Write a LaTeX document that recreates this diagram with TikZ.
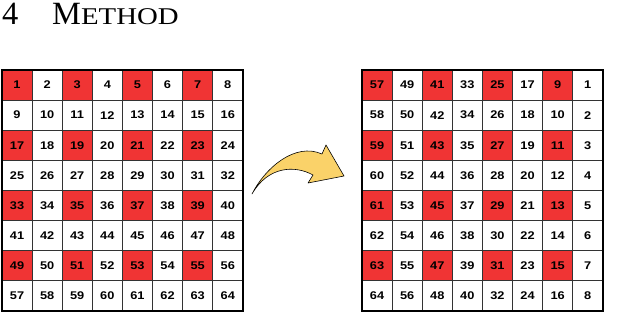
\documentclass[tikz,border=0pt]{standalone}
\usepackage{fontspec}
\usepackage{graphicx}
\setmainfont{Liberation Serif}
\newfontfamily\gridfont[FakeStretch=1.15]{Liberation Sans}
\usetikzlibrary{positioning}
\definecolor{cellred}{RGB}{240,52,52}
\definecolor{arrowyellow}{RGB}{250,210,105}

\begin{document}
\begin{tikzpicture}[every node/.style={font=\gridfont\bfseries\fontsize{9.5}{10}\selectfont},
    cell/.style={draw=black!80, line width=0.6pt, minimum size=0.903cm, inner sep=0pt},
    frame/.style={draw=black, line width=1.6pt}]
    \useasboundingbox (0,0) rectangle (19.02,-10.02);
    % heading
    \node[anchor=base west, inner sep=0pt, font=\fontsize{27.7}{30}\selectfont] (secnum) at (0.06,-0.75) {4};
    \node[anchor=base west, inner sep=0pt, font=\fontsize{27.7}{30}\selectfont] (secname) at (1.56,-0.75) {M\scalebox{1.2}[1]{\fontsize{20.5}{22}\selectfont ETHOD}};
    % grid in reading order
    \foreach \r in {0,...,7}
        \foreach \c in {0,...,7} {
            \pgfmathtruncatemacro{\val}{8*\r+\c+1}
            \pgfmathtruncatemacro{\hot}{and(iseven(\r),iseven(\c))}
            \ifnum\hot=1 \def\shade{cellred}\else\def\shade{white}\fi
            \node[cell, fill=\shade] (lft-\r-\c) at ({0.06+0.903*(\c+0.5)},{-2.1-0.903*(\r+0.5)}) {\val};
        }
    \draw[frame] (lft-0-0.north west) rectangle (lft-7-7.south east);
    % grid after rotation
    \foreach \r in {0,...,7}
        \foreach \c in {0,...,7} {
            \pgfmathtruncatemacro{\val}{57-8*\c+\r}
            \pgfmathtruncatemacro{\hot}{and(iseven(\r),iseven(\c))}
            \ifnum\hot=1 \def\shade{cellred}\else\def\shade{white}\fi
            \node[cell, fill=\shade] (rgt-\r-\c) at ({10.86+0.903*(\c+0.5)},{-2.1-0.903*(\r+0.5)}) {\val};
        }
    \draw[frame] (rgt-0-0.north west) rectangle (rgt-7-7.south east);
    % curved arrow
    \filldraw[fill=arrowyellow, draw=black, line width=0.5pt, line join=round]
        (7.56,-5.82) .. controls (7.95,-5.04) and (8.85,-4.26) .. (9.66,-4.62)
        -- (9.78,-4.35) -- (10.32,-5.28) -- (9.24,-5.49) -- (9.39,-5.25)
        .. controls (8.85,-4.95) and (8.04,-4.98) .. (7.56,-5.82) -- cycle;
\end{tikzpicture}
\end{document}
